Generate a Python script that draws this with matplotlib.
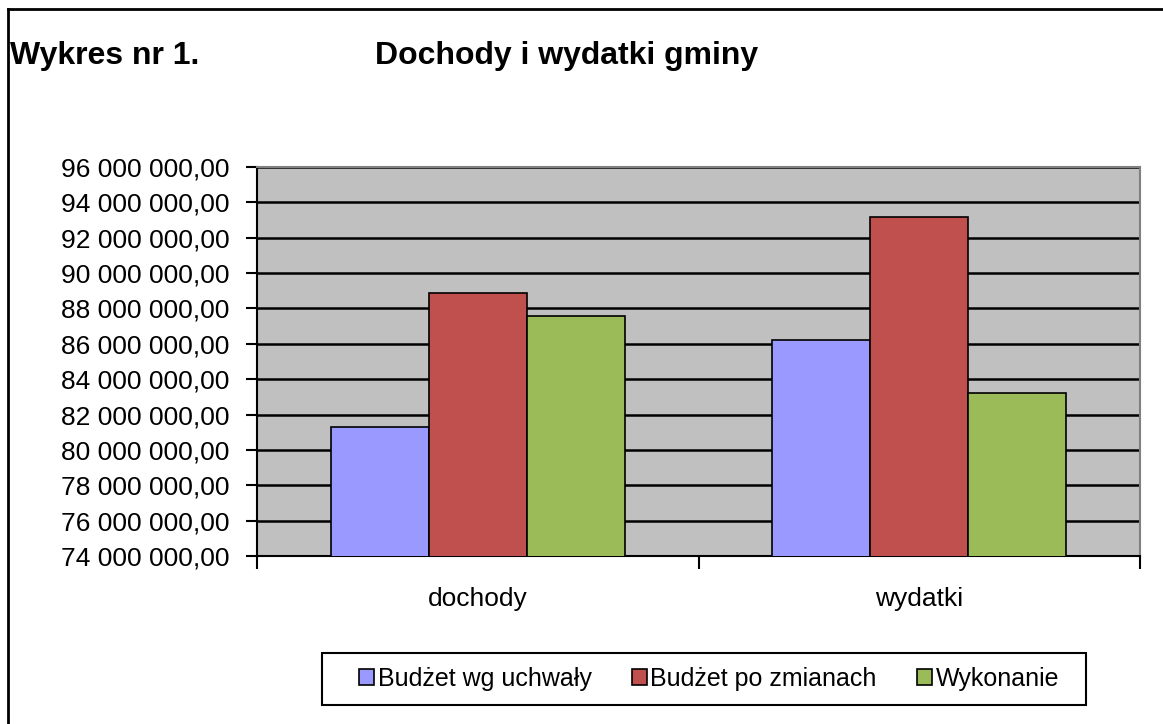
import matplotlib
matplotlib.use("Agg")
import matplotlib.pyplot as plt
from matplotlib.ticker import FuncFormatter, FixedLocator
from matplotlib.lines import Line2D
from matplotlib.patches import Rectangle
import numpy as np

categories = ["dochody", "wydatki"]
series_names = ["Budżet wg uchwały", "Budżet po zmianach", "Wykonanie"]
budzet_wg_uchwaly = [81_320_000, 86_240_000]
budzet_po_zmianach = [88_900_000, 93_190_000]
wykonanie = [87_570_000, 83_200_000]
series_values = [budzet_wg_uchwaly, budzet_po_zmianach, wykonanie]
colors = ["#9999FF", "#C0504D", "#9BBB59"]
y_ticks = list(range(74_000_000, 96_000_001, 2_000_000))

FONT = ["Liberation Sans", "DejaVu Sans"]
plt.rcParams["font.family"] = FONT

W, H = 1163, 724
fig = plt.figure(figsize=(W / 100, H / 100), dpi=100)
ax = fig.add_axes([257 / W, 1 - 556 / H, (1140 - 257) / W, (556 - 167) / H])
ax.set_facecolor("#C0C0C0")

x = np.arange(len(categories))
w = 1 / 4.5
for i, (name, vals, c) in enumerate(zip(series_names, series_values, colors)):
    ax.bar(x + (i - 1) * w, vals, width=w, color=c, edgecolor="black",
           linewidth=1.2, label=name, zorder=3)

ax.set_ylim(74_000_000, 96_000_000)
ax.set_xlim(-0.5, len(categories) - 0.5)
ax.set_yticks(y_ticks)
ax.yaxis.set_major_formatter(FuncFormatter(
    lambda v, p: f"{v:,.2f}".replace(",", " ").replace(".", ",")))
ax.yaxis.grid(True, color="black", linewidth=1.8, zorder=1)
ax.set_axisbelow(True)

ax.set_xticks(x)
ax.set_xticklabels(categories)
ax.xaxis.set_minor_locator(FixedLocator(np.arange(-0.5, len(categories), 1.0)))
ax.tick_params(axis="x", which="major", length=0, pad=22, labelsize=19)
ax.tick_params(axis="x", which="minor", length=9, width=1.5, direction="out")
ax.tick_params(axis="y", length=8, width=1.5, direction="out", labelsize=19, pad=12)

for s in ["top", "right"]:
    ax.spines[s].set_color("#808080")
    ax.spines[s].set_linewidth(1.5)
for s in ["left", "bottom"]:
    ax.spines[s].set_color("black")
    ax.spines[s].set_linewidth(1.5)

fig.text(10 / W, 1 - 56 / H, "Wykres nr 1.", fontsize=23, fontweight="bold",
         va="center", ha="left")
fig.text(375 / W, 1 - 56 / H, "Dochody i wydatki gminy", fontsize=23,
         fontweight="bold", va="center", ha="left")

# legend frame drawn separately
fig.add_artist(Rectangle((322 / W, 1 - 705 / H), (1086 - 322) / W, (705 - 653) / H,
                         transform=fig.transFigure, fill=False, edgecolor="black",
                         linewidth=1.5))
leg = fig.legend(loc="center", bbox_to_anchor=(709 / W, 1 - 679 / H),
                 ncol=3, frameon=False, fontsize=18,
                 handlelength=0.6, handleheight=0.6, handletextpad=0.15,
                 columnspacing=1.6, borderpad=0.3, borderaxespad=0)
for hnd in leg.legend_handles:
    hnd.set_edgecolor("black")
    hnd.set_linewidth(1.2)

fig.add_artist(Line2D([8 / W, 8 / W], [0, 1 - 9 / H], transform=fig.transFigure,
                      color="black", linewidth=2))
fig.add_artist(Line2D([8 / W, 1], [1 - 9 / H, 1 - 9 / H], transform=fig.transFigure,
                      color="black", linewidth=2))

fig.savefig("out.png", dpi=100)
